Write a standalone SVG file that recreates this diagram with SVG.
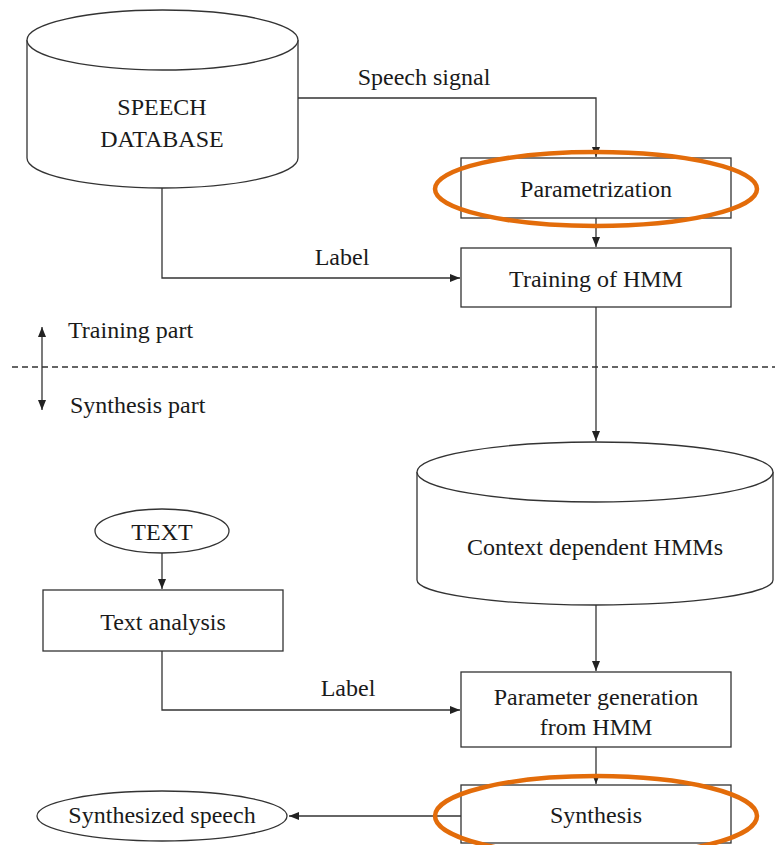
<svg xmlns="http://www.w3.org/2000/svg" width="775" height="845" viewBox="0 0 775 845">
<style>
.s{fill:#fff;stroke:#333;stroke-width:1.3}
.l{fill:none;stroke:#333;stroke-width:1.3}
.t{font-family:"Liberation Serif","Times New Roman",serif;font-size:24px;fill:#1a1a1a}
.m{text-anchor:middle}
.o{fill:none;stroke:#E36C0A;stroke-width:4.5}
</style>
<defs>
<marker id="ah" viewBox="0 0 10 8" refX="10" refY="4" markerWidth="10" markerHeight="8" markerUnits="userSpaceOnUse" orient="auto-start-reverse">
<path d="M0,0 L10,4 L0,8 z" fill="#222"/>
</marker>
</defs>
<rect width="775" height="845" fill="#fff"/>

<g id="connectors">
<path class="l" d="M298,98 H596 V157" marker-end="url(#ah)"/>
<path class="l" d="M596,218 V247" marker-end="url(#ah)"/>
<path class="l" d="M162,188 V278 H460" marker-end="url(#ah)"/>
<path class="l" d="M596,307 V441" marker-end="url(#ah)"/>
<path class="l" d="M596,605 V671" marker-end="url(#ah)"/>
<path class="l" d="M162,553 V589" marker-end="url(#ah)"/>
<path class="l" d="M162,651 V710 H460" marker-end="url(#ah)"/>
<path class="l" d="M596,747 V784" marker-end="url(#ah)"/>
<path class="l" d="M461,816 H289" marker-end="url(#ah)"/>
<path class="l" d="M42,327 V410" marker-start="url(#ah)" marker-end="url(#ah)"/>
<path class="l" d="M12,367 H775" stroke-dasharray="6,4" stroke-width="1"/>
<text class="t m" x="424" y="85">Speech signal</text>
<text class="t m" x="342" y="265">Label</text>
<text class="t m" x="348" y="696">Label</text>
<text class="t" x="68" y="338">Training part</text>
<text class="t" x="70" y="413">Synthesis part</text>
</g>

<g id="speech-database">
<path class="s" d="M27,40 V158 A135.5,30 0 0 0 298,158 V40"/>
<ellipse class="s" cx="162.5" cy="40" rx="135.5" ry="30"/>
<text class="t m" x="162" y="115">SPEECH</text>
<text class="t m" x="162" y="147">DATABASE</text>
</g>

<g id="parametrization">
<rect class="s" x="461" y="158" width="270" height="60"/>
<text class="t m" x="596" y="197">Parametrization</text>
</g>

<g id="training">
<rect class="s" x="461" y="248" width="270" height="59"/>
<text class="t m" x="596" y="287">Training of HMM</text>
</g>

<g id="context-hmms">
<path class="s" d="M417,472 V580 A178,25 0 0 0 773,580 V472"/>
<ellipse class="s" cx="595" cy="472" rx="178" ry="30"/>
<text class="t m" x="595" y="555">Context dependent HMMs</text>
</g>

<g id="text-input">
<ellipse class="s" cx="162" cy="531" rx="67" ry="22"/>
<text class="t m" x="162" y="540">TEXT</text>
</g>

<g id="text-analysis">
<rect class="s" x="43" y="590" width="240" height="61"/>
<text class="t m" x="163" y="630">Text analysis</text>
</g>

<g id="param-generation">
<rect class="s" x="461" y="672" width="270" height="75"/>
<text class="t m" x="596" y="705">Parameter generation</text>
<text class="t m" x="596" y="735">from HMM</text>
</g>

<g id="synthesis">
<rect class="s" x="461" y="785" width="270" height="58"/>
<text class="t m" x="596" y="823">Synthesis</text>
</g>

<g id="synthesized-speech">
<ellipse class="s" cx="162" cy="816" rx="125" ry="25"/>
<text class="t m" x="162" y="823">Synthesized speech</text>
</g>

<g id="highlights">
<ellipse class="o" cx="596" cy="189" rx="161" ry="37"/>
<ellipse class="o" cx="596" cy="816" rx="161" ry="40"/>
</g>
</svg>
